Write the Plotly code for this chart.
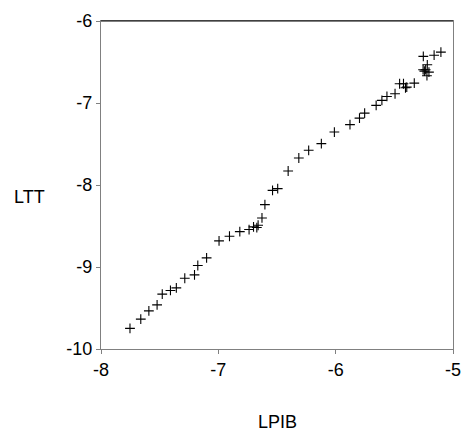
import plotly.graph_objects as go

lpib = [-7.753, -7.661, -7.592, -7.522, -7.478, -7.408, -7.358, -7.286, -7.203, -7.175,
        -7.100, -6.994, -6.905, -6.817, -6.738, -6.700, -6.672, -6.661, -6.628, -6.603,
        -6.538, -6.494, -6.405, -6.314, -6.230, -6.122, -6.011, -5.878, -5.797, -5.753,
        -5.655, -5.606, -5.563, -5.494, -5.455, -5.422, -5.405, -5.394, -5.330, -5.253,
        -5.219, -5.233, -5.205, -5.222, -5.161, -5.103, -5.255, -5.244]
ltt = [-9.749, -9.636, -9.535, -9.462, -9.331, -9.286, -9.254, -9.137, -9.096, -8.982,
       -8.889, -8.682, -8.625, -8.568, -8.543, -8.511, -8.519, -8.491, -8.402, -8.239,
       -8.065, -8.044, -7.829, -7.671, -7.577, -7.496, -7.354, -7.264, -7.184, -7.123,
       -7.029, -6.968, -6.920, -6.887, -6.765, -6.765, -6.814, -6.806, -6.758, -6.432,
       -6.534, -6.594, -6.624, -6.667, -6.417, -6.380, -6.594, -6.611]

x_ticks = [-8, -7, -6, -5]
y_ticks = [-10, -9, -8, -7, -6]

font = "Liberation Sans, Arial, sans-serif"

fig = go.Figure()
fig.add_trace(go.Scatter(
    x=lpib, y=ltt, mode="markers",
    marker=dict(symbol="cross-thin", size=7, color="black",
                line=dict(color="black", width=1.1)),
    showlegend=False, hoverinfo="skip"))

fig.update_xaxes(range=[-8, -5], tickvals=x_ticks, ticktext=[str(v) for v in x_ticks],
                 showgrid=False, zeroline=False, showline=True, linecolor="#808080",
                 linewidth=1.2, mirror=True, ticks="outside", ticklen=4, tickcolor="#808080",
                 tickfont=dict(family=font, size=18, color="black"))
fig.update_yaxes(range=[-10, -6], tickvals=y_ticks, ticktext=[str(v) for v in y_ticks],
                 showgrid=False, zeroline=False, showline=True, linecolor="#808080",
                 linewidth=1.2, mirror=True, ticks="outside", ticklen=4, tickcolor="#808080",
                 tickfont=dict(family=font, size=18, color="black"))

fig.add_shape(type="line", xref="paper", yref="paper", x0=0, x1=1, y0=1, y1=1,
              line=dict(color="black", width=1), layer="above")

fig.add_annotation(text="LTT", xref="paper", yref="paper", x=(27.7 - 101.3) / 360,
                   y=(349 - 196.7) / 328.5, showarrow=False, xanchor="center", yanchor="middle",
                   font=dict(family=font, size=18, color="black"))
fig.add_annotation(text="LPIB", xref="paper", yref="paper", x=0.5,
                   y=(349 - 421.7) / 328.5, showarrow=False, xanchor="center", yanchor="middle",
                   font=dict(family=font, size=18, color="black"))

fig.update_layout(width=472, height=432, margin=dict(l=101, r=11, t=20, b=83),
                  paper_bgcolor="white", plot_bgcolor="white")

fig.write_html("out.html")
